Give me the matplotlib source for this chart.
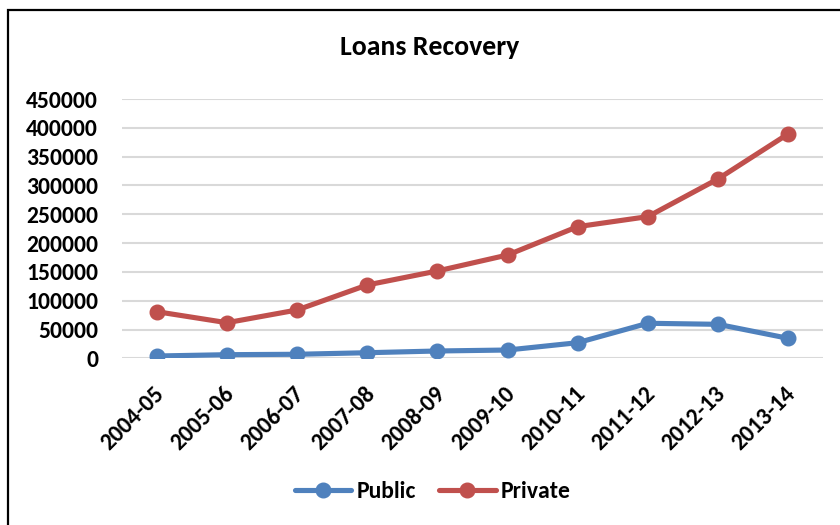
import matplotlib
matplotlib.use("Agg")
import matplotlib.pyplot as plt
from matplotlib.patches import Rectangle
from matplotlib.transforms import ScaledTranslation

plt.rcParams["font.family"] = ["Carlito", "DejaVu Sans"]
plt.rcParams["font.weight"] = "bold"

years = ["2004-05", "2005-06", "2006-07", "2007-08", "2008-09",
         "2009-10", "2010-11", "2011-12", "2012-13", "2013-14"]
public = [4000, 6300, 7000, 9700, 12700, 14400, 27100, 60800, 59000, 34700]
private = [80900, 61800, 83900, 127300, 151600, 179300, 228500, 245900, 311300, 389400]
yticks = list(range(0, 450001, 50000))

BLUE = "#4F81BD"
RED = "#C0504D"
FS = 17

fig = plt.figure(figsize=(8.4, 5.25), dpi=100)
ax = fig.add_axes([0.145, 0.3175, 0.835, 0.4939])

x = range(len(years))
ax.plot(x, public, color=BLUE, lw=3.7, marker="o", ms=10.5, label="Public",
        solid_capstyle="round", solid_joinstyle="round", zorder=3)
ax.plot(x, private, color=RED, lw=3.7, marker="o", ms=10.5, label="Private",
        solid_capstyle="round", solid_joinstyle="round", zorder=3)

ax.set_xlim(-0.5, len(years) - 0.5)
ax.set_ylim(0, 450000)
ax.set_yticks(yticks)
ax.set_yticklabels([str(v) for v in yticks], fontsize=FS, fontweight="bold")
ax.set_xticks(list(x))
ax.set_xticklabels(years, rotation=45, ha="right", va="center",
                   rotation_mode="anchor", fontsize=FS, fontweight="bold")
ax.tick_params(axis="both", length=0)
ax.tick_params(axis="y", pad=17)
ax.tick_params(axis="x", pad=23)
# nudge the slanted labels a little to the right
shift = ScaledTranslation(4 / 100, 0, fig.dpi_scale_trans)
for lbl in ax.get_xticklabels():
    lbl.set_transform(lbl.get_transform() + shift)
ax.grid(axis="y", color="#D9D9D9", lw=1.5)
ax.set_axisbelow(True)
for s in ax.spines.values():
    s.set_visible(False)

fig.text(0.511, 0.91, "Loans Recovery", ha="center", va="center",
         fontsize=20, fontweight="bold")

fig.legend(loc="center", bbox_to_anchor=(0.515, 0.063), ncol=2, frameon=False,
           handlelength=2.4, handletextpad=0.2, columnspacing=1.0,
           prop={"weight": "bold", "size": FS})

# chart frame
fig.patches.append(Rectangle((8 / 840, -0.1), 1.2, 1.1 - 10 / 525,
                             transform=fig.transFigure, fill=False,
                             edgecolor="black", lw=1.6))

fig.savefig("out.png", dpi=100)
